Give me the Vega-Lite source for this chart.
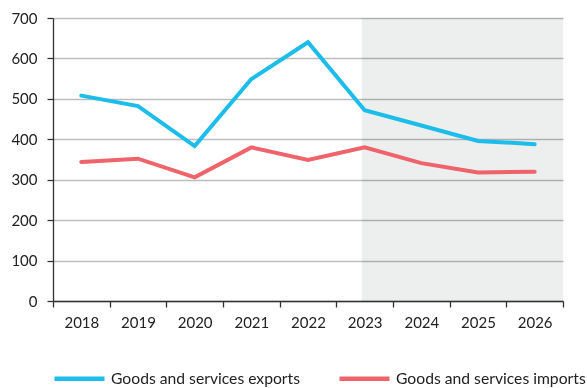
{
  "$schema": "https://vega.github.io/schema/vega-lite/v6.json",
  "width": 510,
  "height": 283,
  "autosize": "none",
  "padding": {"left": 53, "top": 18, "right": 24, "bottom": 87},
  "background": "white",
  "config": {
    "view": {"stroke": null},
    "font": "Lato",
    "axis": {"labelFont": "Lato", "labelFontSize": 15, "labelColor": "#222", "domainColor": "#333", "tickColor": "#333", "domainWidth": 1.3, "tickWidth": 1.3}
  },
  "datasets": {
    "series": [
      {"year": "2018", "series": "Goods and services exports", "value": 508},
      {"year": "2019", "series": "Goods and services exports", "value": 482},
      {"year": "2020", "series": "Goods and services exports", "value": 383},
      {"year": "2021", "series": "Goods and services exports", "value": 549},
      {"year": "2022", "series": "Goods and services exports", "value": 640},
      {"year": "2023", "series": "Goods and services exports", "value": 472},
      {"year": "2024", "series": "Goods and services exports", "value": 434},
      {"year": "2025", "series": "Goods and services exports", "value": 396},
      {"year": "2026", "series": "Goods and services exports", "value": 388},
      {"year": "2018", "series": "Goods and services imports", "value": 344},
      {"year": "2019", "series": "Goods and services imports", "value": 352},
      {"year": "2020", "series": "Goods and services imports", "value": 306},
      {"year": "2021", "series": "Goods and services imports", "value": 380},
      {"year": "2022", "series": "Goods and services imports", "value": 349},
      {"year": "2023", "series": "Goods and services imports", "value": 380},
      {"year": "2024", "series": "Goods and services imports", "value": 341},
      {"year": "2025", "series": "Goods and services imports", "value": 318},
      {"year": "2026", "series": "Goods and services imports", "value": 320}
    ],
    "shade": [{"start": 5.45, "end": 9}]
  },
  "layer": [
    {
      "data": {"name": "shade"},
      "mark": {"type": "rect", "color": "#EDEEEE", "blend": "multiply"},
      "encoding": {
        "x": {"field": "start", "type": "quantitative", "scale": {"domain": [0, 9], "nice": false, "zero": false}, "axis": null},
        "x2": {"field": "end"}
      }
    },
    {
      "data": {"name": "series"},
      "mark": {"type": "line", "strokeWidth": 4, "strokeCap": "round", "strokeJoin": "miter"},
      "encoding": {
        "x": {
          "field": "year", "type": "ordinal",
          "scale": {"type": "band", "paddingInner": 0, "paddingOuter": 0},
          "axis": {"title": null, "labelAngle": 0, "tickBand": "extent", "tickSize": 6, "labelPadding": 8, "grid": false}
        },
        "y": {
          "field": "value", "type": "quantitative",
          "scale": {"domain": [0, 700], "nice": false},
          "axis": {"title": null, "values": [0, 100, 200, 300, 400, 500, 600, 700], "tickSize": 6, "labelPadding": 10, "grid": true, "gridColor": "#BDBDBD", "gridWidth": 1.3}
        },
        "color": {
          "field": "series", "type": "nominal",
          "scale": {"domain": ["Goods and services exports", "Goods and services imports"], "range": ["#1CBDEA", "#EF636A"]},
          "legend": {"title": null, "orient": "none", "legendX": -1, "legendY": 333, "direction": "horizontal", "symbolType": "stroke", "symbolSize": 2500, "symbolStrokeWidth": 4.5, "labelFont": "Lato", "labelFontSize": 15.7, "labelColor": "#222", "labelLimit": 400, "columnPadding": 30, "labelOffset": 4}
        }
      }
    }
  ],
  "resolve": {"scale": {"x": "independent"}}
}
